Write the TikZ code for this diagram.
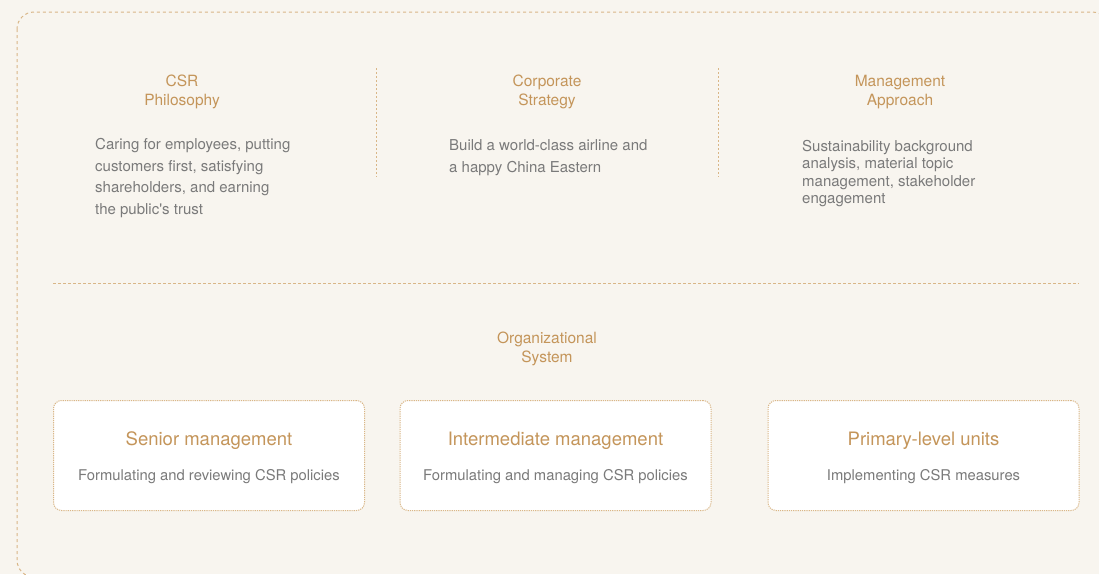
\documentclass[tikz,border=0pt]{standalone}
\usepackage{fontspec}
\setmainfont{TeX Gyre Heros}
\usetikzlibrary{positioning}
\definecolor{paper}{HTML}{F8F5EF}
\definecolor{gold}{HTML}{C4955A}
\definecolor{ink}{HTML}{7A7A7A}
\definecolor{rule}{HTML}{D9B687}

\begin{document}
\begin{tikzpicture}[x=1pt, y=-1pt,
  head/.style={font=\fontsize{15.5}{19}\selectfont, text=gold, align=center,
               inner sep=0pt, anchor=north},
  txt/.style={font=\fontsize{15}{21.5}\selectfont, text=ink, align=left,
              inner sep=0pt, anchor=north west},
  unit/.style={draw=rule, line width=1pt, dash pattern=on 1.2pt off 1pt,
               fill=white, rounded corners=8pt, minimum width=311pt,
               minimum height=110pt, inner sep=0pt},
  utitle/.style={font=\fontsize{18.5}{22}\selectfont, text=gold, inner sep=0pt, anchor=base},
  usub/.style={font=\fontsize{14.8}{18}\selectfont, text=ink, inner sep=0pt, anchor=base},
  sep/.style={draw=rule, line width=1pt, dash pattern=on 1.5pt off 2.5pt}]
\useasboundingbox (0,0) rectangle (1099,574);
\clip (0,0) rectangle (1099,574);
\fill[paper] (0,0) rectangle (1099,574);
% outer frame runs off the page on the right and bottom
\draw[draw=rule, line width=1pt, dash pattern=on 3pt off 3pt, rounded corners=17pt]
  (17,12) rectangle (1109,577);

% top row
\node[head] (h1) at (182,75) {CSR\\Philosophy};
\node[head] (h2) at (547,75) {Corporate\\Strategy};
\node[head] (h3) at (900,75) {Management\\Approach};
\node[txt] (t1) at (95,138.5) {Caring for employees, putting\\customers first, satisfying\\shareholders, and earning\\the public\textquotesingle s trust};
\node[txt] (t2) at (449,139.5) {Build a world-class airline and\\a happy China Eastern};
\node[txt, font=\fontsize{15}{17.5}\selectfont] (t3) at (802,140) {Sustainability background\\analysis, material topic\\management, stakeholder\\engagement};
\draw[sep] (376,68) -- (376,177);
\draw[sep] (718,68) -- (718,177);
\draw[sep, dash pattern=on 2.5pt off 2.5pt] (53,283) -- (1079,283);

% organizational system
\node[head] (h4) at (547,331.5) {Organizational\\System};
\node[unit] (u1) at (209,455.5) {};
\node[unit] (u2) at (555.5,455.5) {};
\node[unit] (u3) at (923.5,455.5) {};
\node[utitle] (u1t) at ([yshift=9.8pt]u1.center) {Senior management};
\node[usub] (u1s) at ([yshift=-25.2pt]u1.center) {Formulating and reviewing CSR policies};
\node[utitle] (u2t) at ([yshift=9.8pt]u2.center) {Intermediate management};
\node[usub] (u2s) at ([yshift=-25.2pt]u2.center) {Formulating and managing CSR policies};
\node[utitle] (u3t) at ([yshift=9.8pt]u3.center) {Primary-level units};
\node[usub] (u3s) at ([yshift=-25.2pt]u3.center) {Implementing CSR measures};
\end{tikzpicture}
\end{document}
